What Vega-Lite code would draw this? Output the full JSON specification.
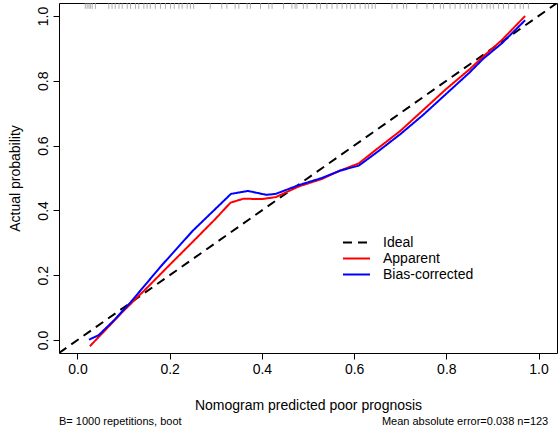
{
  "$schema": "https://vega.github.io/schema/vega-lite/v6.json",
  "width": 498,
  "height": 350,
  "autosize": "none",
  "padding": {"left": 59, "top": 3, "right": 3, "bottom": 80},
  "background": "white",
  "config": {
    "font": "Liberation Sans",
    "view": {"stroke": "black", "strokeWidth": 1},
    "axis": {
      "grid": false,
      "domain": false,
      "tickColor": "black",
      "tickSize": 6,
      "labelColor": "black",
      "labelFontSize": 14,
      "titleColor": "black",
      "titleFontSize": 14,
      "titleFontWeight": "normal"
    },
    "axisX": {"labelPadding": 3, "titlePadding": 22},
    "axisY": {"labelAngle": -90, "labelPadding": 3, "titlePadding": 14},
    "legend": {
      "orient": "none",
      "legendX": 289,
      "legendY": 231,
      "padding": 0,
      "labelFontSize": 14,
      "labelColor": "black",
      "symbolType": "M-1.8,0H1.8",
      "symbolSize": 225,
      "symbolStrokeWidth": 2,
      "labelOffset": 18,
      "rowPadding": 0
    }
  },
  "datasets": {
    "curves": [
      {"series": "Ideal", "x": -0.04, "y": -0.04},
      {"series": "Ideal", "x": 1.04, "y": 1.04},
      {"series": "Apparent", "x": 0.027, "y": -0.019},
      {"series": "Apparent", "x": 0.06, "y": 0.03},
      {"series": "Apparent", "x": 0.1, "y": 0.09},
      {"series": "Apparent", "x": 0.15, "y": 0.16},
      {"series": "Apparent", "x": 0.2, "y": 0.232},
      {"series": "Apparent", "x": 0.25, "y": 0.303},
      {"series": "Apparent", "x": 0.3, "y": 0.375},
      {"series": "Apparent", "x": 0.332, "y": 0.424},
      {"series": "Apparent", "x": 0.36, "y": 0.436},
      {"series": "Apparent", "x": 0.4, "y": 0.435},
      {"series": "Apparent", "x": 0.43, "y": 0.441},
      {"series": "Apparent", "x": 0.48, "y": 0.474},
      {"series": "Apparent", "x": 0.53, "y": 0.497},
      {"series": "Apparent", "x": 0.57, "y": 0.523},
      {"series": "Apparent", "x": 0.61, "y": 0.545},
      {"series": "Apparent", "x": 0.65, "y": 0.59},
      {"series": "Apparent", "x": 0.7, "y": 0.645},
      {"series": "Apparent", "x": 0.75, "y": 0.71},
      {"series": "Apparent", "x": 0.8, "y": 0.775},
      {"series": "Apparent", "x": 0.85, "y": 0.835},
      {"series": "Apparent", "x": 0.88, "y": 0.875},
      {"series": "Apparent", "x": 0.92, "y": 0.925},
      {"series": "Apparent", "x": 0.971, "y": 1.0},
      {"series": "Bias-corrected", "x": 0.025, "y": 0.001},
      {"series": "Bias-corrected", "x": 0.046, "y": 0.015},
      {"series": "Bias-corrected", "x": 0.08, "y": 0.062},
      {"series": "Bias-corrected", "x": 0.115, "y": 0.116},
      {"series": "Bias-corrected", "x": 0.18, "y": 0.226},
      {"series": "Bias-corrected", "x": 0.25, "y": 0.337},
      {"series": "Bias-corrected", "x": 0.333, "y": 0.451},
      {"series": "Bias-corrected", "x": 0.37, "y": 0.46},
      {"series": "Bias-corrected", "x": 0.41, "y": 0.448},
      {"series": "Bias-corrected", "x": 0.43, "y": 0.451},
      {"series": "Bias-corrected", "x": 0.48, "y": 0.478},
      {"series": "Bias-corrected", "x": 0.53, "y": 0.5},
      {"series": "Bias-corrected", "x": 0.57, "y": 0.523},
      {"series": "Bias-corrected", "x": 0.61, "y": 0.538},
      {"series": "Bias-corrected", "x": 0.65, "y": 0.58},
      {"series": "Bias-corrected", "x": 0.7, "y": 0.635},
      {"series": "Bias-corrected", "x": 0.75, "y": 0.695},
      {"series": "Bias-corrected", "x": 0.8, "y": 0.76},
      {"series": "Bias-corrected", "x": 0.85, "y": 0.825},
      {"series": "Bias-corrected", "x": 0.88, "y": 0.868},
      {"series": "Bias-corrected", "x": 0.92, "y": 0.915},
      {"series": "Bias-corrected", "x": 0.971, "y": 0.987}
    ],
    "rug": [
      {"x": 0.017}, {"x": 0.021}, {"x": 0.025}, {"x": 0.028}, {"x": 0.032}, {"x": 0.039},
      {"x": 0.068}, {"x": 0.075}, {"x": 0.082}, {"x": 0.09}, {"x": 0.097}, {"x": 0.108},
      {"x": 0.115}, {"x": 0.126}, {"x": 0.133}, {"x": 0.144}, {"x": 0.151}, {"x": 0.158},
      {"x": 0.169}, {"x": 0.18}, {"x": 0.191}, {"x": 0.202}, {"x": 0.21}, {"x": 0.22},
      {"x": 0.227}, {"x": 0.238}, {"x": 0.245}, {"x": 0.252}, {"x": 0.288}, {"x": 0.313},
      {"x": 0.324}, {"x": 0.342}, {"x": 0.35}, {"x": 0.368}, {"x": 0.375}, {"x": 0.397},
      {"x": 0.415}, {"x": 0.422}, {"x": 0.447}, {"x": 0.465}, {"x": 0.472}, {"x": 0.476},
      {"x": 0.49}, {"x": 0.498}, {"x": 0.519}, {"x": 0.527}, {"x": 0.541}, {"x": 0.552},
      {"x": 0.563}, {"x": 0.574}, {"x": 0.584}, {"x": 0.592}, {"x": 0.602}, {"x": 0.613},
      {"x": 0.624}, {"x": 0.631}, {"x": 0.639}, {"x": 0.646}, {"x": 0.682}, {"x": 0.693},
      {"x": 0.707}, {"x": 0.714}, {"x": 0.736}, {"x": 0.758}, {"x": 0.772}, {"x": 0.787},
      {"x": 0.794}, {"x": 0.808}, {"x": 0.819}, {"x": 0.83}, {"x": 0.841}, {"x": 0.848},
      {"x": 0.855}, {"x": 0.866}, {"x": 0.877}, {"x": 0.888}, {"x": 0.895}, {"x": 0.902},
      {"x": 0.913}, {"x": 0.924}, {"x": 0.935}, {"x": 0.949}, {"x": 0.96}, {"x": 0.967},
      {"x": 0.978}
    ]
  },
  "layer": [
    {
      "data": {"name": "rug"},
      "mark": {"type": "rule", "color": "#9a9a9a", "strokeWidth": 1, "opacity": 0.8},
      "encoding": {
        "x": {"field": "x", "type": "quantitative", "title": "Nomogram predicted poor prognosis",
              "scale": {"domain": [-0.04, 1.04], "nice": false, "zero": false},
              "axis": {"values": [0, 0.2, 0.4, 0.6, 0.8, 1], "format": ".1f"}},
        "y": {"datum": 1.04, "type": "quantitative", "title": "Actual probability",
              "scale": {"domain": [-0.04, 1.04], "nice": false, "zero": false},
              "axis": {"values": [0, 0.2, 0.4, 0.6, 0.8, 1], "format": ".1f"}},
        "y2": {"datum": 1.022}
      }
    },
    {
      "data": {"name": "curves"},
      "mark": {"type": "line", "strokeWidth": 2, "clip": true},
      "encoding": {
        "x": {"field": "x", "type": "quantitative", "title": "Nomogram predicted poor prognosis",
              "axis": {"values": [0, 0.2, 0.4, 0.6, 0.8, 1], "format": ".1f"}},
        "y": {"field": "y", "type": "quantitative", "title": "Actual probability",
              "axis": {"values": [0, 0.2, 0.4, 0.6, 0.8, 1], "format": ".1f"}},
        "color": {
          "field": "series", "type": "nominal", "title": null,
          "scale": {"domain": ["Ideal", "Apparent", "Bias-corrected"], "range": ["black", "#ff0000", "#0000ff"]}
        },
        "strokeDash": {
          "field": "series", "type": "nominal", "title": null,
          "scale": {"domain": ["Ideal", "Apparent", "Bias-corrected"], "range": [[9, 6], [1, 0], [1, 0]]}
        }
      }
    },
    {
      "data": {"values": [{"note": "B= 1000 repetitions, boot"}]},
      "mark": {"type": "text", "align": "left", "baseline": "alphabetic", "fontSize": 11, "color": "black", "clip": false},
      "encoding": {
        "x": {"datum": -0.04, "type": "quantitative", "title": "Nomogram predicted poor prognosis"},
        "y": {"datum": -0.262, "type": "quantitative", "title": "Actual probability"},
        "text": {"field": "note"}
      }
    },
    {
      "data": {"values": [{"note": "Mean absolute error=0.038 n=123"}]},
      "mark": {"type": "text", "align": "right", "baseline": "alphabetic", "fontSize": 11, "color": "black", "clip": false},
      "encoding": {
        "x": {"datum": 1.021, "type": "quantitative", "title": "Nomogram predicted poor prognosis"},
        "y": {"datum": -0.262, "type": "quantitative", "title": "Actual probability"},
        "text": {"field": "note"}
      }
    }
  ]
}
